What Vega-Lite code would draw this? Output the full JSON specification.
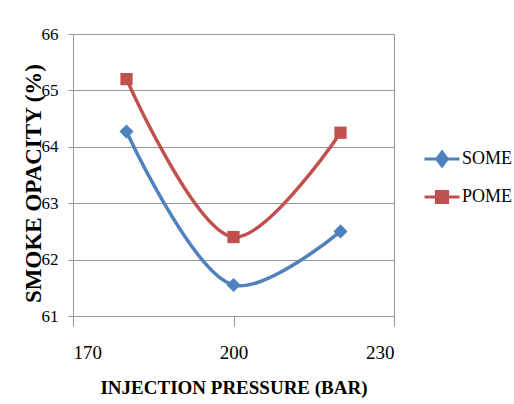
{
  "$schema": "https://vega.github.io/schema/vega-lite/v6.json",
  "width": 321,
  "height": 282,
  "autosize": {"type": "none"},
  "padding": {"left": 73, "top": 34, "right": 120, "bottom": 88},
  "background": "white",
  "config": {
    "font": "Liberation Serif",
    "axis": {"labelFont": "Liberation Serif", "titleFont": "Liberation Serif"},
    "view": {"stroke": "#999999", "strokeWidth": 1},
    "legend": {
      "orient": "none",
      "legendX": 350,
      "legendY": 106,
      "padding": 0,
      "symbolSize": 1225,
      "symbolOpacity": 1,
      "symbolStrokeWidth": 3,
      "labelFontSize": 18,
      "labelColor": "#000000",
      "labelOffset": 1,
      "rowPadding": 6,
      "labelFont": "Liberation Serif"
    }
  },
  "data": {
    "values": [
      {"pressure": 180, "opacity": 64.27, "series": "SOME"},
      {"pressure": 200, "opacity": 61.55, "series": "SOME"},
      {"pressure": 220, "opacity": 62.5, "series": "SOME"},
      {"pressure": 180, "opacity": 65.2, "series": "POME"},
      {"pressure": 200, "opacity": 62.4, "series": "POME"},
      {"pressure": 220, "opacity": 64.25, "series": "POME"}
    ]
  },
  "encoding": {
    "x": {
      "field": "pressure",
      "type": "quantitative",
      "scale": {"domain": [170, 230], "nice": false, "zero": false},
      "axis": {
        "values": [170, 200, 230],
        "grid": false,
        "domainColor": "#999999",
        "tickColor": "#999999",
        "tickSize": 10,
        "labelPadding": 17,
        "labelFont": "Liberation Serif",
        "labelFontSize": 19,
        "labelColor": "#000000",
        "title": "INJECTION PRESSURE (BAR)",
        "titleFont": "Liberation Serif",
        "titleFontSize": 19,
        "titleFontWeight": "bold",
        "titleColor": "#000000",
        "titleX": 160.5,
        "titleY": 71,
        "titleBaseline": "middle"
      }
    },
    "y": {
      "field": "opacity",
      "type": "quantitative",
      "scale": {"domain": [61, 66], "nice": false, "zero": false},
      "axis": {
        "values": [61, 62, 63, 64, 65, 66],
        "grid": true,
        "gridColor": "#999999",
        "domainColor": "#999999",
        "tickColor": "#999999",
        "tickSize": 5,
        "labelPadding": 10,
        "labelFont": "Liberation Serif",
        "labelFontSize": 17,
        "labelColor": "#000000",
        "title": "SMOKE OPACITY (%)",
        "titleFont": "Liberation Serif",
        "titleFontSize": 23,
        "titleFontWeight": "bold",
        "titleColor": "#000000",
        "titleX": -40,
        "titleY": 149,
        "titleAngle": -90,
        "titleBaseline": "middle",
        "titleAlign": "center"
      }
    },
    "color": {
      "field": "series",
      "type": "nominal",
      "scale": {"domain": ["SOME", "POME"], "range": ["#4f81bd", "#c0504d"]},
      "legend": {"title": null}
    }
  },
  "layer": [
    {
      "mark": {"type": "line", "interpolate": "catmull-rom", "strokeWidth": 3.5}
    },
    {
      "mark": {"type": "point", "filled": true, "opacity": 1},
      "encoding": {
        "shape": {"condition": {"test": "datum.series === 'SOME'", "value": "diamond"}, "value": "square"},
        "size": {"condition": {"test": "datum.series === 'SOME'", "value": 200}, "value": 150}
      }
    },
    {
      "mark": {"type": "point", "filled": true, "opacity": 0, "strokeWidth": 3},
      "encoding": {
        "shape": {
          "field": "series",
          "type": "nominal",
          "scale": {
            "domain": ["SOME", "POME"],
            "range": [
              "M-1,0H1M0,-0.4L0.3,0L0,0.4L-0.3,0Z",
              "M-1,0H1M-0.32,-0.32H0.32V0.32H-0.32Z"
            ]
          },
          "legend": {"title": null}
        },
        "stroke": {
          "field": "series",
          "type": "nominal",
          "scale": {"domain": ["SOME", "POME"], "range": ["#4f81bd", "#c0504d"]},
          "legend": {"title": null}
        }
      }
    }
  ]
}
